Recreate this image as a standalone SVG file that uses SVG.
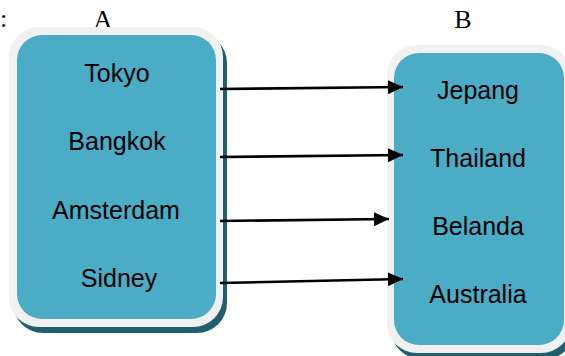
<svg xmlns="http://www.w3.org/2000/svg" width="565" height="356" viewBox="0 0 565 356">
<style>
.shadow{fill:#215E6E}
.frame{fill:#F1F1F1}
.panel{fill:#4BACC6}
.item{font-family:"Liberation Sans",Arial,sans-serif;font-size:25px;fill:#000;text-anchor:middle}
.head{font-family:"Liberation Serif","Times New Roman",serif;font-size:26px;fill:#000;text-anchor:middle}
.conn{stroke:#000;stroke-width:2.6;fill:none}
</style>
<defs>
<marker id="arr" markerUnits="userSpaceOnUse" markerWidth="16" markerHeight="16" refX="15" refY="7" orient="auto">
<path d="M0,0 L15,7 L0,14 z" fill="#000"/>
</marker>
</defs>
<text class="head" x="0" y="27" style="text-anchor:start">:</text>
<text class="head" x="103" y="28">A</text>
<text class="head" x="463" y="28">B</text>
<g id="nodeA">
<rect class="shadow" x="13" y="33" width="214" height="300" rx="30"/>
<rect class="frame" x="9" y="27" width="214" height="300" rx="30"/>
<rect class="panel" x="17" y="35" width="199" height="284" rx="25"/>
<text class="item" x="117" y="82">Tokyo</text>
<text class="item" x="117" y="150">Bangkok</text>
<text class="item" x="116" y="219">Amsterdam</text>
<text class="item" x="119" y="287">Sidney</text>
</g>
<g id="nodeB">
<rect class="shadow" x="391" y="51" width="184" height="308" rx="30"/>
<rect class="frame" x="387" y="45" width="184" height="308" rx="30"/>
<rect class="panel" x="394" y="53" width="170" height="292" rx="25"/>
<text class="item" x="478" y="99">Jepang</text>
<text class="item" x="478" y="167">Thailand</text>
<text class="item" x="478" y="235">Belanda</text>
<text class="item" x="478" y="303">Australia</text>
</g>
<g id="connectors">
<line class="conn" x1="220" y1="89" x2="403" y2="87" marker-end="url(#arr)"/>
<line class="conn" x1="220" y1="157" x2="403" y2="155" marker-end="url(#arr)"/>
<line class="conn" x1="220" y1="221" x2="389" y2="219" marker-end="url(#arr)"/>
<line class="conn" x1="220" y1="283" x2="403" y2="279" marker-end="url(#arr)"/>
</g>
</svg>
